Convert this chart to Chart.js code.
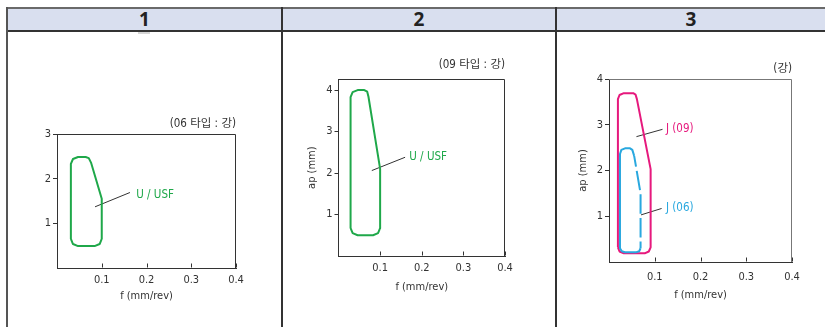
<!DOCTYPE html>
<html>
<head>
<meta charset="utf-8">
<title>Zone de brise-copeaux</title>
<script src="https://cdn.jsdelivr.net/npm/chart.js@4.4.1/dist/chart.umd.min.js"></script>
<style>
body { margin:0; background:#fff; }
#page { position:relative; width:825px; height:327px; overflow:hidden; background:#fff; }
.ligne { position:absolute; }
.entete { position:absolute; top:9px; height:21px; line-height:21px; text-align:center; font-family:'Noto Sans','Open Sans',sans-serif; font-weight:bold; font-size:19px; color:#222; }
canvas { position:absolute; }
</style>
</head>
<body>
<div id="page">
    <div class="ligne" style="left:7px;top:8px;width:818px;height:23px;background:#d9dfef;"></div>
    <div class="ligne" style="left:7px;top:7px;width:818px;height:2px;background:#6a6a6a;"></div>
    <div class="ligne" style="left:7px;top:30px;width:818px;height:2px;background:#333;"></div>
    <div class="ligne" style="left:6px;top:7px;width:2px;height:320px;background:#555;"></div>
    <div class="ligne" style="left:281px;top:7px;width:2px;height:320px;background:#333;"></div>
    <div class="ligne" style="left:555px;top:7px;width:2px;height:320px;background:#333;"></div>
    <div class="ligne" style="left:138px;top:32px;width:12px;height:2px;background:#d6d6d6;"></div>
    <div class="entete" style="left:8px;width:273px;">1</div>
    <div class="entete" style="left:283px;width:272px;">2</div>
    <div class="entete" style="left:557px;width:268px;">3</div>

    <canvas id="canvasGraph1" width="235" height="208" style="left:15px;top:100px;"></canvas>
    <canvas id="canvasGraph2" width="229" height="259" style="left:290px;top:40px;"></canvas>
    <canvas id="canvasGraph3" width="243" height="267" style="left:565px;top:40px;"></canvas>
</div>

<script>
// Graduations
var fTicks = [0.1, 0.2, 0.3, 0.4];
var apTicks1 = [1, 2, 3];
var apTicks2 = [1, 2, 3, 4];
var apTicks3 = [1, 2, 3, 4];

// 1 : U / USF (06 타입)
var usf06F  = [0.031, 0.031, 0.0357, 0.047, 0.064, 0.071, 0.076, 0.1, 0.1, 0.0953, 0.084, 0.047, 0.0357, 0.031];
var usf06Ap = [0.65, 2.33, 2.44, 2.485, 2.485, 2.46, 2.36, 1.55, 0.65, 0.537, 0.49, 0.49, 0.537, 0.65];
var usf06LeaderF  = [0.085, 0.163];
var usf06LeaderAp = [1.37, 1.69];
var usf06Label = [0.177, 1.63];

// 2 : U / USF (09 타입)
var usf09F  = [0.029, 0.029, 0.034, 0.046, 0.062, 0.069, 0.072, 0.1, 0.1, 0.095, 0.083, 0.046, 0.034, 0.029];
var usf09Ap = [0.67, 3.83, 3.95, 4.0, 4.0, 3.96, 3.84, 2.1, 0.67, 0.55, 0.5, 0.5, 0.55, 0.67];
var usf09LeaderF  = [0.08, 0.16];
var usf09LeaderAp = [2.06, 2.38];
var usf09Label = [0.17, 2.38];

// 3 : J (09) et J (06)
var j09F  = [0.0195, 0.0195, 0.023, 0.0325, 0.053, 0.058, 0.061, 0.091, 0.091, 0.087, 0.078, 0.0325, 0.023, 0.0195];
var j09Ap = [0.32, 3.56, 3.65, 3.69, 3.69, 3.66, 3.56, 2.03, 0.32, 0.23, 0.19, 0.19, 0.23, 0.32];
var j09LeaderF  = [0.06, 0.117];
var j09LeaderAp = [2.74, 2.9];
var j09Label = [0.1245, 2.91];

// J (06) : les 3 premiers points forment la partie en tirets
var j06F  = [0.055, 0.069, 0.069, 0.066, 0.06, 0.035, 0.028, 0.024, 0.024, 0.027, 0.035, 0.046, 0.051, 0.055];
var j06Ap = [2.32, 1.5, 0.3, 0.235, 0.215, 0.215, 0.235, 0.3, 2.36, 2.45, 2.485, 2.485, 2.45, 2.32];
var j06LeaderF  = [0.07, 0.115];
var j06LeaderAp = [1.03, 1.17];
var j06Label = [0.1245, 1.19];

var vert = '#1fa84a';
var rose = '#e6197d';
var bleu = '#29a8df';
var police = "'Liberation Sans Narrow', 'DejaVu Sans Condensed', 'Noto Sans CJK KR', sans-serif";

Chart.defaults.font.family = police;
Chart.defaults.font.size = 11;
Chart.defaults.color = '#333';

// Assemble les points f / ap
function Points(f, ap)
{
    var pts = [];
    for(var i = 0; i < f.length; i++)
    {
        pts.push({x: f[i], y: ap[i]});
    }
    return pts;
}

function Contour(f, ap, couleur)
{
    return {
        data: Points(f, ap),
        showLine: true,
        borderColor: couleur,
        borderWidth: 2,
        borderJoinStyle: 'round',
        pointRadius: 0,
        fill: false
    };
}

function Trait(f, ap)
{
    return {
        data: Points(f, ap),
        showLine: true,
        borderColor: '#333',
        borderWidth: 1,
        pointRadius: 0,
        fill: false
    };
}

// Cadre haut / droite, graduations de f vers l'intérieur, noms des courbes
var cadrePlugin = {
    id: 'cadre',
    afterDraw: function(chart, args, opts)
    {
        var ctx = chart.ctx;
        var a = chart.chartArea;
        var sx = chart.scales.x;
        var sy = chart.scales.y;
        var haut = Math.round(a.top) + 0.5;
        var droite = Math.round(a.right) - 0.5;
        var bas = Math.round(a.bottom) - 0.5;

        ctx.save();
        ctx.lineWidth = 1;
        ctx.strokeStyle = opts.couleurCadre;
        ctx.beginPath();
        ctx.moveTo(a.left, haut);
        ctx.lineTo(droite, haut);
        ctx.lineTo(droite, a.bottom);
        ctx.stroke();

        ctx.strokeStyle = '#333';
        ctx.beginPath();
        for(var i = 0; i < sx.ticks.length; i++)
        {
            var px = Math.round(sx.getPixelForValue(sx.ticks[i].value)) + 0.5;
            ctx.moveTo(px, bas);
            ctx.lineTo(px, bas - 4);
        }
        ctx.stroke();

        ctx.font = '11.5px ' + police;
        ctx.textAlign = 'left';
        ctx.textBaseline = 'middle';
        for(var j = 0; j < opts.noms.length; j++)
        {
            var n = opts.noms[j];
            ctx.fillStyle = n.couleur;
            ctx.fillText(n.texte, sx.getPixelForValue(n.pos[0]), sy.getPixelForValue(n.pos[1]));
        }
        ctx.restore();
    }
};

function DessinerGraph(idCanvas, p)
{
    var graphTarget = document.getElementById(idCanvas);

    return new Chart(graphTarget, {
        type: 'scatter',
        data: { datasets: p.datasets },
        plugins: [cadrePlugin],
        options: {
            responsive: false,
            animation: false,
            events: [],
            layout: { padding: p.padding },
            plugins: {
                legend: { display: false },
                tooltip: { enabled: false },
                title: {
                    display: true,
                    text: p.sousTitre,
                    align: 'end',
                    fullSize: false,
                    color: '#333',
                    font: { size: 11.5, weight: 'normal' },
                    padding: { top: 0, bottom: p.espaceTitre }
                },
                cadre: { couleurCadre: p.couleurCadre, noms: p.noms }
            },
            scales: {
                x: {
                    type: 'linear',
                    min: 0,
                    max: 0.4,
                    afterBuildTicks: function(s) { s.ticks = fTicks.map(function(v) { return {value: v}; }); },
                    afterFit: function(s) { s.height = p.hauteurX; },
                    grid: { display: false, drawTicks: false },
                    border: { display: true, color: '#333', width: 1 },
                    ticks: { padding: p.espaceTicksX, callback: function(v) { return String(v); } },
                    title: { display: true, text: 'f (mm/rev)', padding: 0 }
                },
                y: {
                    type: 'linear',
                    min: 0,
                    max: p.apMax,
                    afterBuildTicks: function(s) { s.ticks = p.apTicks.map(function(v) { return {value: v}; }); },
                    afterFit: function(s) { s.width = p.largeurY; },
                    grid: { drawOnChartArea: false, tickLength: 4, color: '#333' },
                    border: { display: true, color: '#333', width: 1 },
                    ticks: { padding: 2, callback: function(v) { return String(v); } },
                    title: { display: p.titreY, text: 'ap (mm)', padding: 0 }
                }
            }
        }
    });
}

DessinerGraph('canvasGraph1', {
    datasets: [ Contour(usf06F, usf06Ap, vert), Trait(usf06LeaderF, usf06LeaderAp) ],
    noms: [ { texte: 'U / USF', pos: usf06Label, couleur: vert } ],
    sousTitre: '(06 타입 : 강)',
    apMax: 3,
    apTicks: apTicks1,
    titreY: false,
    largeurY: 34,
    hauteurX: 35,
    espaceTicksX: 5.4,
    espaceTitre: 2.8,
    couleurCadre: '#333',
    padding: { left: 8, right: 14, top: 17.4, bottom: 5 }
});

DessinerGraph('canvasGraph2', {
    datasets: [ Contour(usf09F, usf09Ap, vert), Trait(usf09LeaderF, usf09LeaderAp) ],
    noms: [ { texte: 'U / USF', pos: usf09Label, couleur: vert } ],
    sousTitre: '(09 타입 : 강)',
    apMax: 4.26,
    apTicks: apTicks2,
    titreY: true,
    largeurY: 33,
    hauteurX: 38,
    espaceTicksX: 5.4,
    espaceTitre: 7.4,
    couleurCadre: '#333',
    padding: { left: 15.5, right: 14, top: 18.1, bottom: 5 }
});

// J (06) : partie droite en tirets, le reste en trait plein
var j06Tirets = Contour(j06F.slice(0, 3), j06Ap.slice(0, 3), bleu);
j06Tirets.borderDash = [19.5, 4.2];
j06Tirets.borderDashOffset = 8.5;
j06Tirets.borderCapStyle = 'butt';
var j06Plein = Contour(j06F.slice(2), j06Ap.slice(2), bleu);

DessinerGraph('canvasGraph3', {
    datasets: [ j06Tirets, j06Plein, Contour(j09F, j09Ap, rose), Trait(j09LeaderF, j09LeaderAp), Trait(j06LeaderF, j06LeaderAp) ],
    noms: [ { texte: 'J (09)', pos: j09Label, couleur: rose }, { texte: 'J (06)', pos: j06Label, couleur: bleu } ],
    sousTitre: '(강)',
    apMax: 4,
    apTicks: apTicks3,
    titreY: true,
    largeurY: 32.6,
    hauteurX: 40,
    espaceTicksX: 8.1,
    espaceTitre: 3.1,
    couleurCadre: '#777',
    padding: { left: 11.4, right: 16, top: 22.1, bottom: 5 }
});
</script>
</body>
</html>
